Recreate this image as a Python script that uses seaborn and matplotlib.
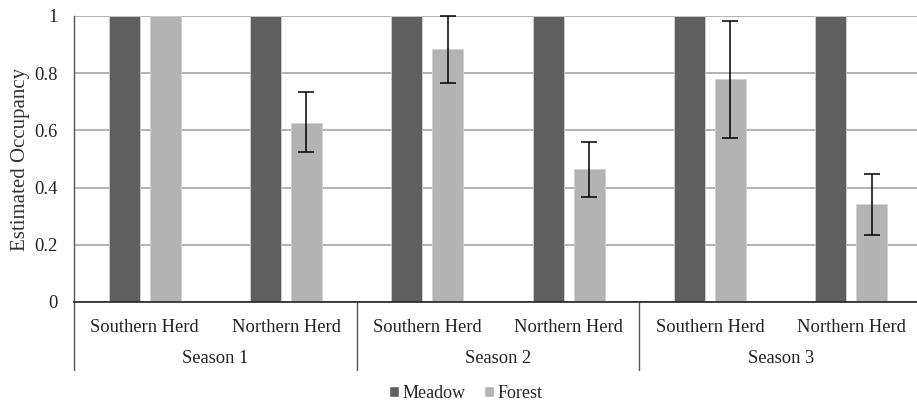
import matplotlib
matplotlib.use("Agg")
import matplotlib.pyplot as plt
import matplotlib.transforms as mtransforms
from matplotlib.patches import Patch
import numpy as np
import pandas as pd
import seaborn as sns

seasons = ["Season 1", "Season 2", "Season 3"]
herds = ["Southern Herd", "Northern Herd"]
habitats = ["Meadow", "Forest"]
meadow = [1.0, 1.0, 1.0, 1.0, 1.0, 1.0]
forest = [1.0, 0.627, 0.883, 0.465, 0.779, 0.342]
forest_lo = [np.nan, 0.523, 0.767, 0.366, 0.572, 0.235]
forest_hi = [np.nan, 0.734, 1.0, 0.560, 0.983, 0.448]
yticks = [0, 0.2, 0.4, 0.6, 0.8, 1.0]
ytick_labels = ["0", "0.2", "0.4", "0.6", "0.8", "1"]

groups = [f"{s}|{h}" for s in seasons for h in herds]
df = pd.DataFrame({
    "group": groups * 2,
    "habitat": ["Meadow"] * 6 + ["Forest"] * 6,
    "value": meadow + forest,
})

sns.set_theme(style="white")
plt.rcParams["font.family"] = ["Liberation Serif", "DejaVu Serif"]

fig = plt.figure(figsize=(9.17, 4.03), dpi=100)
ax = fig.add_axes([74 / 917, 1 - 302 / 403, (922 - 74) / 917, (302 - 16) / 403])

sns.barplot(data=df, x="group", y="value", hue="habitat", order=groups,
            hue_order=habitats, palette=["#5f5f5f", "#b3b3b3"],
            width=0.58, gap=0.24, saturation=1, errorbar=None, ax=ax,
            legend=False, edgecolor="#d0d0d0", linewidth=0.6)

# error bars on Forest bars
fcont = ax.containers[1]
xs = [p.get_x() + p.get_width() / 2 for p in fcont.patches]
f = np.array(forest)
lo = np.array(forest_lo)
hi = np.array(forest_hi)
yerr = np.vstack([f - lo, hi - f])
ax.errorbar(xs, f, yerr=yerr, fmt="none", ecolor="black", elinewidth=1.1,
            capsize=5.5, capthick=1.1, clip_on=False, zorder=5)

ax.set_ylim(0, 1)
ax.set_xlim(-0.5, len(groups) - 0.5)
ax.set_yticks(yticks)
ax.set_yticklabels(ytick_labels, fontsize=13.3, color="#222222")
ax.yaxis.grid(True, color="#a6a6a6", linewidth=1.2)
ax.set_axisbelow(True)
ax.tick_params(axis="both", length=0)
ax.tick_params(axis="y", pad=12)
ax.set_xticks(range(len(groups)))
ax.set_xticklabels([g.split("|")[1] for g in groups], fontsize=13.3, color="#222222")
ax.tick_params(axis="x", pad=12)
ax.set_xlabel("")
ax.set_ylabel("Estimated Occupancy", fontsize=15, color="#333333", labelpad=2.5)

for side in ["top", "right"]:
    ax.spines[side].set_visible(False)
ax.spines["left"].set_color("#555555")
ax.spines["left"].set_linewidth(1.0)
ax.spines["bottom"].set_color("#222222")
ax.spines["bottom"].set_linewidth(1.2)

trans = mtransforms.blended_transform_factory(ax.transData, ax.transAxes)
for i, s in enumerate(seasons):
    cx = 2 * i + 0.5
    ax.text(cx, -0.196, s, transform=trans, ha="center", va="center",
            fontsize=13.3, color="#222222")
for b in [-0.5, 1.5, 3.5]:
    ax.plot([b, b], [0, -0.238], transform=trans, color="#555555",
            linewidth=1.0, clip_on=False)

handles = [Patch(facecolor="#5f5f5f", label="Meadow"),
           Patch(facecolor="#b3b3b3", label="Forest")]
fig.legend(handles=handles, loc="center", bbox_to_anchor=(466 / 917, 1 - 393 / 403),
           ncol=2, frameon=False, fontsize=13, handlelength=0.55, handleheight=0.55,
           handletextpad=0.2, columnspacing=1.0, borderpad=0)

fig.savefig("out.png", dpi=100)
